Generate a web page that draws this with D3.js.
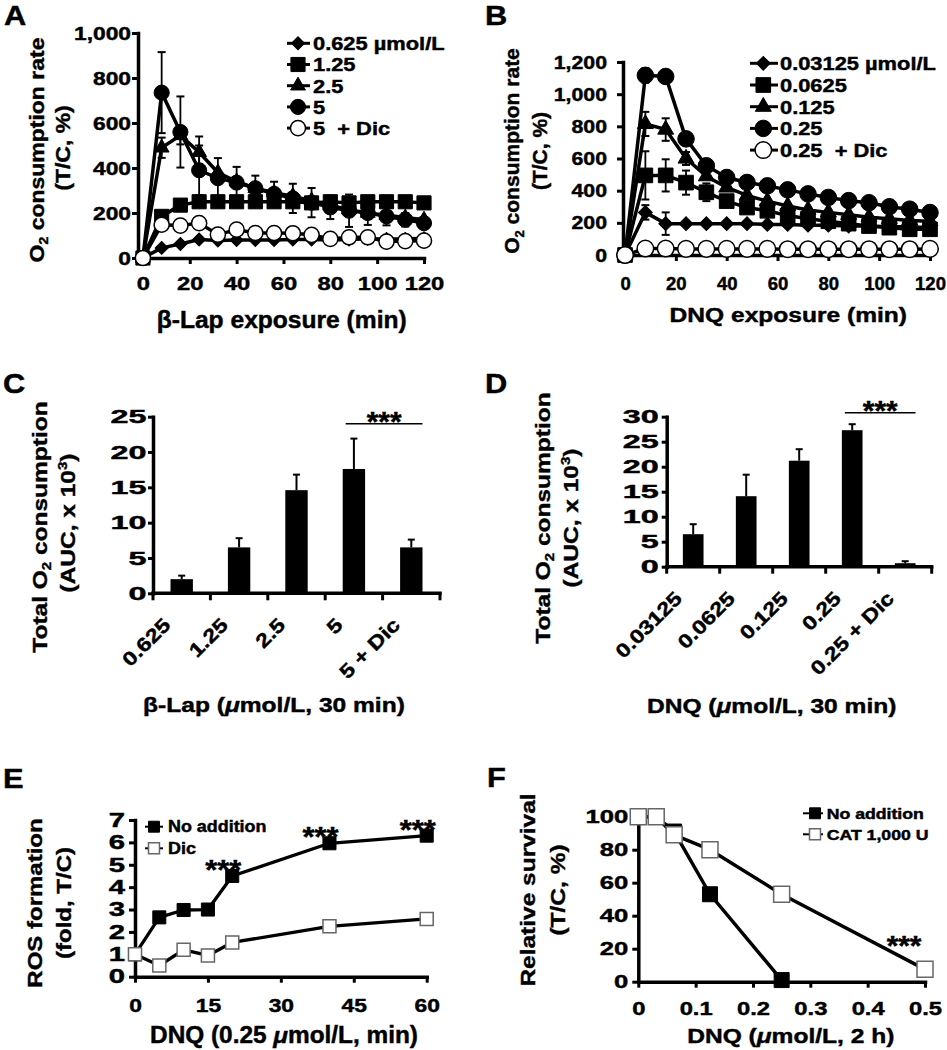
<!DOCTYPE html>
<html><head><meta charset="utf-8">
<script src="https://cdn.jsdelivr.net/npm/d3@7/dist/d3.min.js"></script>
<style>html,body{margin:0;padding:0;background:#fff;}svg{display:block;}</style>
</head><body>
<script>
// ================= DATA =================
// Panels A & B: O2 consumption rate over time
const timeAB = [0,8,16,24,32,40,48,56,64,72,80,88,96,104,112,120];
const xTicksAB = [0,20,40,60,80,100,120];
const yTicksA = [0,200,400,600,800,1000];
const yTicksB = [0,200,400,600,800,1000,1200];

const lapLegend = ["0.625 µmol/L","1.25","2.5","5","5  + Dic"];
const lap0625 = [0,45,62,82,78,80,80,80,82,82,80,82,85,85,85,88];
const lap125  = [0,185,235,250,250,250,250,250,250,245,250,245,250,250,250,245];
const lap25   = [0,490,545,470,380,340,310,290,275,255,235,215,200,190,180,170];
const lap5    = [0,735,560,390,355,335,310,285,265,246,225,210,200,185,170,155];
const lap5Dic = [0,148,144,155,104,126,111,111,110,103,85,92,92,73,75,77];
const lap5Err  = [0,180,158,110,89,70,56,54,65,65,52,72,53,40,30,25];
const lap25Err = [0,45,40,70,0,0,0,0,0,0,0,0,0,0,0,0];

const dnqLegend = ["0.03125 µmol/L","0.0625","0.125","0.25","0.25  + Dic"];
const dnq03125 = [0,265,195,195,195,195,195,190,190,185,185,180,180,175,175,170];
const dnq0625  = [0,495,495,450,390,335,295,275,245,225,210,195,180,170,160,160];
const dnq125   = [0,815,780,600,490,420,370,335,305,280,265,250,235,225,215,210];
const dnq25    = [0,1117,1110,722,555,482,451,430,405,380,358,338,325,300,285,264];
const dnq25Dic = [0,40,40,38,38,38,38,38,36,36,36,36,36,36,36,38];
const dnq03125Err = [0,45,70,15,10,0,0,0,0,0,0,0,0,0,0,0];
const dnq0625Err  = [0,150,100,75,55,30,20,0,0,0,0,0,0,0,0,0];
const dnq125Err   = [0,75,70,40,0,0,0,0,0,0,0,0,0,0,0,0];
const dnq25Err    = [0,45,30,0,0,0,0,0,0,0,0,0,0,0,0,0];

// Panels C & D: total O2 consumption (AUC x 10^3)
const lapDoses = ["0.625","1.25","2.5","5","5 + Dic"];
const lapAUC    = [2.0,6.5,14.6,17.6,6.5];
const lapAUCErr = [0.5,1.3,2.2,4.3,1.1];
const yTicksC = [0,5,10,15,20,25];
const dnqDoses = ["0.03125","0.0625","0.125","0.25","0.25 + Dic"];
const dnqAUC    = [6.5,14.1,21.2,27.3,0.7];
const dnqAUCErr = [2.0,4.3,2.3,1.2,0.4];
const yTicksD = [0,5,10,15,20,25,30];

// Panel E: ROS formation
const rosTime  = [0,5,10,15,20,40,60];
const rosNoAdd = [1.0,2.65,2.98,3.0,4.5,5.96,6.3];
const rosDic   = [1.0,0.5,1.2,0.95,1.53,2.25,2.58];
const rosStarTimes = [20,40,60];
const xTicksE = [0,15,30,45,60];
const yTicksE = [0,1,2,3,4,5,6,7];
const rosLegend = ["No addition","Dic"];

// Panel F: relative survival
const survDose  = [0,0.03125,0.0625,0.125,0.25,0.5];
const survNoAdd = [100,100,91,53,1];
const survCAT   = [100,100,89,80,53,7.5];
const survStarDose = 0.5;
const xTicksF = [0,0.1,0.2,0.3,0.4,0.5];
const yTicksF = [0,20,40,60,80,100];
const survLegend = ["No addition","CAT 1,000 U"];

// ================= DRAWING =================
const FONT = "'Liberation Sans', Arial, Helvetica, sans-serif";
const TSTROKE = 0.45;
const svg = d3.select("body").append("svg").attr("width",947).attr("height",1050);
svg.append("rect").attr("width",947).attr("height",1050).attr("fill","#fff");

function txt(g, x, y, content, o = {}) {
  const size = o.size || 20;
  const t = g.append("text")
    .attr("transform", `translate(${x},${y})` + (o.rot ? ` rotate(${o.rot})` : "") + ` scale(${o.sx || 1},${o.sy || 1})`)
    .attr("text-anchor", o.anchor || "start")
    .attr("font-family", FONT).attr("font-weight", "bold").attr("font-size", size)
    .attr("fill", "#000").attr("stroke", "#000").attr("stroke-width", TSTROKE)
    .style("white-space", "pre");
  const parts = typeof content === "string" ? [{ t: content }] : content;
  parts.forEach(p => {
    const s = t.append("tspan").text(p.t);
    if (p.dy) s.attr("dy", p.dy);
    if (p.fs) s.attr("font-size", p.fs);
    if (p.it) s.attr("font-style", "italic");
  });
  return t;
}

function styleAxis(a, o) {
  a.select(".domain").attr("stroke", "#000").attr("stroke-width", o.sw || 3.5).attr("stroke-linecap", "square");
  a.selectAll(".tick line").attr("stroke", "#000").attr("stroke-width", o.tw || 3);
  a.selectAll(".tick text").attr("font-size", o.size).attr("font-weight", "bold")
    .attr("font-family", FONT).attr("fill", "#000").attr("stroke", "#000").attr("stroke-width", TSTROKE)
    .each(function () {
      const t = d3.select(this);
      const x = +t.attr("x") || 0, y = +t.attr("y") || 0;
      t.attr("transform", `translate(${x},${y}) scale(${o.sx},1) translate(${-x},${-y})`);
    });
}

const symType = { circle: d3.symbolCircle, square: d3.symbolSquare, triangle: d3.symbolTriangle, diamond: d3.symbolSquare };
function marker(g, cx, cy, s) {
  g.append("path").attr("d", d3.symbol().type(symType[s.shape]).size(s.size)())
    .attr("transform", `translate(${cx},${cy})${s.shape === "diamond" ? " rotate(45)" : ""}`)
    .attr("fill", s.fill).attr("stroke", s.stroke).attr("stroke-width", s.sw);
}

function linePanel(c) {
  const g = svg.append("g");
  const x = d3.scaleLinear().domain(c.xDom).range(c.xRange);
  const y = d3.scaleLinear().domain(c.yDom).range(c.yRange);
  const ax = g.append("g").attr("transform", `translate(0,${y(c.yDom[0])})`)
    .call(d3.axisBottom(x).tickValues(c.xTicks).tickFormat(c.xFmt).tickSize(c.tickLen).tickPadding(c.xPad).tickSizeOuter(0));
  styleAxis(ax, c.xLab);
  const ay = g.append("g").attr("transform", `translate(${x(c.xDom[0])},0)`)
    .call(d3.axisLeft(y).tickValues(c.yTicks).tickFormat(c.yFmt).tickSize(c.tickLen).tickPadding(c.yPad).tickSizeOuter(0));
  styleAxis(ay, c.yLab);

  const ser = c.series.map(s => Object.assign({}, s, {
    pts: s.v.map((v, i) => ({ x: s.xs[i], y: v, e: s.e ? s.e[i] : 0 }))
  }));
  const line = d3.line().x(d => x(d.x)).y(d => y(d.y));
  ser.forEach(s => g.append("path").datum(s.pts).attr("d", line).attr("fill", "none")
    .attr("stroke", "#000").attr("stroke-width", c.lw).attr("stroke-linejoin", "round"));
  ser.forEach(s => s.pts.filter(d => d.e > 0).forEach(d => {
    const px = x(d.x), yt = y(d.y + d.e), yb = y(Math.max(0, d.y - d.e));
    g.append("line").attr("x1", px).attr("x2", px).attr("y1", yt).attr("y2", yb).attr("stroke", "#000").attr("stroke-width", 1.8);
    [yt, yb].forEach(yy => g.append("line").attr("x1", px - 4).attr("x2", px + 4).attr("y1", yy).attr("y2", yy).attr("stroke", "#000").attr("stroke-width", 2));
  }));
  c.order.forEach(i => { const s = ser[i]; s.pts.forEach(d => marker(g, x(d.x), y(d.y), s)); });

  // legend
  const L = c.legend;
  ser.forEach((s, i) => {
    const ry = L.y0 + i * L.dy;
    g.append("line").attr("x1", L.x0).attr("x2", L.x1).attr("y1", ry).attr("y2", ry).attr("stroke", "#000").attr("stroke-width", L.lw);
    marker(g, L.mx, ry, Object.assign({}, s, { size: L.msize || s.size }));
    txt(g, L.tx, ry + L.size * 0.36, s.name, { size: L.size, sx: L.sx });
  });
  return { g, x, y };
}

function barPanel(c) {
  const g = svg.append("g");
  const xb = d3.scaleBand().domain(c.cats).range(c.xRange).paddingInner(0.61).paddingOuter(0.305);
  const y = d3.scaleLinear().domain(c.yDom).range(c.yRange);
  const y0 = y(0), bw = xb.bandwidth();
  c.cats.forEach((k, i) => {
    g.append("rect").attr("x", xb(k)).attr("y", y(c.v[i])).attr("width", bw).attr("height", y0 - y(c.v[i])).attr("fill", "#000");
    const cx = xb(k) + bw / 2, yt = y(c.v[i] + c.e[i]);
    g.append("line").attr("x1", cx).attr("x2", cx).attr("y1", y(c.v[i])).attr("y2", yt).attr("stroke", "#000").attr("stroke-width", 2);
    g.append("line").attr("x1", cx - 3.5).attr("x2", cx + 3.5).attr("y1", yt).attr("y2", yt).attr("stroke", "#000").attr("stroke-width", 2);
  });
  // x axis
  g.append("line").attr("x1", c.xRange[0]).attr("x2", c.xRange[1]).attr("y1", y0).attr("y2", y0)
    .attr("stroke", "#000").attr("stroke-width", 3.5).attr("stroke-linecap", "square");
  d3.range(c.cats.length + 1).forEach(i => {
    const tx = c.xRange[0] + i * xb.step();
    g.append("line").attr("x1", tx).attr("x2", tx).attr("y1", y0).attr("y2", y0 + 7).attr("stroke", "#000").attr("stroke-width", 3);
  });
  const ay = g.append("g").attr("transform", `translate(${c.xRange[0]},0)`)
    .call(d3.axisLeft(y).tickValues(c.yTicks).tickSize(5).tickPadding(c.yPad).tickSizeOuter(0));
  styleAxis(ay, { size: 19, sx: c.ysx });
  c.cats.forEach(k => txt(g, xb(k) + bw / 2 - 10, y0 + 33, k, { rot: -45, anchor: "end", size: 19.5, sx: 1.2 }));
  // significance
  const a = c.cats[c.sig[0]], b = c.cats[c.sig[1]];
  const sy = y(c.sigY), sx1 = xb(a) + 3, sx2 = xb(b) + bw;
  g.append("line").attr("x1", sx1).attr("x2", sx2).attr("y1", sy).attr("y2", sy).attr("stroke", "#000").attr("stroke-width", 1.6);
  txt(g, (sx1 + sx2) / 2, sy + 7.5, "***", { anchor: "middle", size: 27, sx: 1.1 });
  return { g, xb, y };
}

const fmtComma = d3.format(",");

// ---------- Panel A ----------
linePanel({
  xDom: [-2.1, 120], xRange: [138, 424], yDom: [0, 1000], yRange: [258, 33],
  xTicks: xTicksAB, yTicks: yTicksA, xFmt: fmtComma, yFmt: fmtComma,
  tickLen: 6, xPad: 13, yPad: 1,
  xLab: { size: 19, sx: 1.25 }, yLab: { size: 19, sx: 1.2 }, lw: 3.5,
  series: [
    { name: lapLegend[0], xs: timeAB, v: lap0625, shape: "diamond", size: 85, fill: "#000", stroke: "#000", sw: 1 },
    { name: lapLegend[1], xs: timeAB, v: lap125, shape: "square", size: 200, fill: "#000", stroke: "#000", sw: 1 },
    { name: lapLegend[2], xs: timeAB, v: lap25, e: lap25Err, shape: "triangle", size: 95, fill: "#000", stroke: "#000", sw: 1 },
    { name: lapLegend[3], xs: timeAB, v: lap5, e: lap5Err, shape: "circle", size: 180, fill: "#000", stroke: "#000", sw: 1 },
    { name: lapLegend[4], xs: timeAB, v: lap5Dic, shape: "circle", size: 180, fill: "#fff", stroke: "#000", sw: 1.5 }
  ],
  order: [0, 2, 3, 1, 4],
  legend: { x0: 287, x1: 310, mx: 298, tx: 313, y0: 43.3, dy: 21.2, size: 19, sx: 1.15, lw: 3 }
});
txt(svg, 4, 25, "A", { size: 28, sx: 1.1 });
txt(svg, 43.5, 150, [{ t: "O" }, { t: "2", fs: 14, dy: 5 }, { t: " consumption rate", dy: -5 }], { rot: -90, anchor: "middle", size: 23, sy: 0.91 });
txt(svg, 70, 148, "(T/C, %)", { rot: -90, anchor: "middle", size: 23, sy: 0.91 });
txt(svg, 281.7, 328, "β-Lap exposure (min)", { anchor: "middle", size: 23, sx: 1.07 });

// ---------- Panel B ----------
linePanel({
  xDom: [-0.8, 120], xRange: [623, 930], yDom: [0, 1200], yRange: [255, 62],
  xTicks: xTicksAB, yTicks: yTicksB, xFmt: fmtComma, yFmt: fmtComma,
  tickLen: 6, xPad: 15.5, yPad: 10,
  xLab: { size: 18.5, sx: 1.0 }, yLab: { size: 19, sx: 1.12 }, lw: 3.5,
  series: [
    { name: dnqLegend[0], xs: timeAB, v: dnq03125, e: dnq03125Err, shape: "diamond", size: 95, fill: "#000", stroke: "#000", sw: 1 },
    { name: dnqLegend[1], xs: timeAB, v: dnq0625, e: dnq0625Err, shape: "square", size: 215, fill: "#000", stroke: "#000", sw: 1 },
    { name: dnqLegend[2], xs: timeAB, v: dnq125, e: dnq125Err, shape: "triangle", size: 110, fill: "#000", stroke: "#000", sw: 1 },
    { name: dnqLegend[3], xs: timeAB, v: dnq25, e: dnq25Err, shape: "circle", size: 215, fill: "#000", stroke: "#000", sw: 1 },
    { name: dnqLegend[4], xs: timeAB, v: dnq25Dic, shape: "circle", size: 215, fill: "#fff", stroke: "#000", sw: 1.5 }
  ],
  order: [0, 1, 2, 3, 4],
  legend: { x0: 750, x1: 778, mx: 763.3, tx: 780, y0: 63.3, dy: 21.7, size: 19, sx: 1.15, lw: 3 }
});
txt(svg, 485, 25, "B", { size: 28, sx: 1.1 });
txt(svg, 519.3, 151, [{ t: "O" }, { t: "2", fs: 13, dy: 5 }, { t: " consumption rate", dy: -5 }], { rot: -90, anchor: "middle", size: 21 });
txt(svg, 547, 151, "(T/C, %)", { rot: -90, anchor: "middle", size: 21 });
txt(svg, 788.3, 321.7, "DNQ exposure (min)", { anchor: "middle", size: 21, sx: 1.17 });

// ---------- Panel C ----------
barPanel({
  cats: lapDoses, v: lapAUC, e: lapAUCErr, xRange: [153, 440], yDom: [0, 25], yRange: [593.3, 416.7],
  yTicks: yTicksC, yPad: 1.5, ysx: 1.7, sig: [3, 4], sigY: 24
});
txt(svg, 3, 393, "C", { size: 28, sx: 1.1 });
txt(svg, 46.7, 527, [{ t: "Total O" }, { t: "2", fs: 15, dy: 5 }, { t: " consumption", dy: -5 }], { rot: -90, anchor: "middle", size: 24.5, sy: 0.85 });
txt(svg, 75, 523, [{ t: "(AUC, x 10" }, { t: "3", fs: 15, dy: -9 }, { t: ")", dy: 9 }], { rot: -90, anchor: "middle", size: 24.5, sy: 0.85 });
txt(svg, 274, 712, [{ t: "β-Lap (" }, { t: "μ", it: true }, { t: "mol/L, 30 min)" }], { anchor: "middle", size: 21, sx: 1.17 });

// ---------- Panel D ----------
barPanel({
  cats: dnqDoses, v: dnqAUC, e: dnqAUCErr, xRange: [666.7, 931.7], yDom: [0, 30], yRange: [566.7, 416.7],
  yTicks: yTicksD, yPad: 3, ysx: 1.7, sig: [3, 4], sigY: 30.8
});
txt(svg, 485, 393, "D", { size: 28, sx: 1.1 });
txt(svg, 550, 518, [{ t: "Total O" }, { t: "2", fs: 15, dy: 5 }, { t: " consumption", dy: -5 }], { rot: -90, anchor: "middle", size: 24.5, sy: 0.85 });
txt(svg, 578, 518, [{ t: "(AUC, x 10" }, { t: "3", fs: 15, dy: -9 }, { t: ")", dy: 9 }], { rot: -90, anchor: "middle", size: 24.5, sy: 0.85 });
txt(svg, 771.7, 713, [{ t: "DNQ (" }, { t: "μ", it: true }, { t: "mol/L, 30 min)" }], { anchor: "middle", size: 21, sx: 1.17 });

// ---------- Panel E ----------
const E = linePanel({
  xDom: [0, 60], xRange: [135, 426.7], yDom: [0, 7], yRange: [976.7, 820],
  xTicks: xTicksE, yTicks: yTicksE, xFmt: d3.format("d"), yFmt: d3.format("d"),
  tickLen: 6, xPad: 15.5, yPad: 4,
  xLab: { size: 19, sx: 1.2 }, yLab: { size: 19.5, sx: 1.5 }, lw: 3.3,
  series: [
    { name: rosLegend[0], xs: rosTime, v: rosNoAdd, shape: "square", size: 170, fill: "#000", stroke: "#000", sw: 1 },
    { name: rosLegend[1], xs: rosTime, v: rosDic, shape: "square", size: 170, fill: "#fff", stroke: "#666", sw: 1.5 }
  ],
  order: [0, 1],
  legend: { x0: 145, x1: 163, mx: 154, tx: 168, y0: 826.7, dy: 21.6, size: 16, sx: 1.12, lw: 2, msize: 120 }
});
rosStarTimes.forEach(t => {
  const v = rosNoAdd[rosTime.indexOf(t)];
  txt(E.g, E.x(t) - 9, E.y(v) + 3, "***", { anchor: "middle", size: 28, sx: 1.1 });
});
txt(svg, 3, 788, "E", { size: 28, sx: 1.1 });
txt(svg, 41.7, 903, "ROS formation", { rot: -90, anchor: "middle", size: 24, sy: 0.87 });
txt(svg, 71, 903, "(fold, T/C)", { rot: -90, anchor: "middle", size: 24, sy: 0.87 });
txt(svg, 284, 1042.7, [{ t: "DNQ (0.25 " }, { t: "μ", it: true }, { t: "mol/L, min)" }], { anchor: "middle", size: 23, sx: 1.06 });

// ---------- Panel F ----------
const F = linePanel({
  xDom: [0, 0.5], xRange: [638.3, 925], yDom: [0, 100], yRange: [981.7, 816.7],
  xTicks: xTicksF, yTicks: yTicksF, xFmt: d => d === 0 ? "0" : d3.format(".1f")(d), yFmt: d3.format("d"),
  tickLen: 6, xPad: 14, yPad: 4,
  xLab: { size: 19, sx: 1.25 }, yLab: { size: 19, sx: 1.35 }, lw: 3.5,
  series: [
    { name: survLegend[0], xs: survDose, v: survNoAdd, shape: "square", size: 225, fill: "#000", stroke: "#000", sw: 1 },
    { name: survLegend[1], xs: survDose, v: survCAT, shape: "square", size: 256, fill: "#fff", stroke: "#666", sw: 1.5 }
  ],
  order: [0, 1],
  legend: { x0: 803, x1: 823, mx: 815, tx: 826.7, y0: 813.3, dy: 21, size: 14.5, sx: 1.22, lw: 2, msize: 120 }
});
{
  const v = survCAT[survDose.indexOf(survStarDose)];
  txt(F.g, F.x(survStarDose) - 21, F.y(v) - 14.5, "***", { anchor: "middle", size: 27, sx: 1.1 });
}
txt(svg, 487, 787, "F", { size: 28, sx: 1.1 });
txt(svg, 535, 890, "Relative survival", { rot: -90, anchor: "middle", size: 24.5, sy: 0.86 });
txt(svg, 565, 890, "(T/C, %)", { rot: -90, anchor: "middle", size: 24.5, sy: 0.86 });
txt(svg, 790.8, 1043.3, [{ t: "DNQ (" }, { t: "μ", it: true }, { t: "mol/L, 2 h)" }], { anchor: "middle", size: 21, sx: 1.17 });
</script>
</body></html>
